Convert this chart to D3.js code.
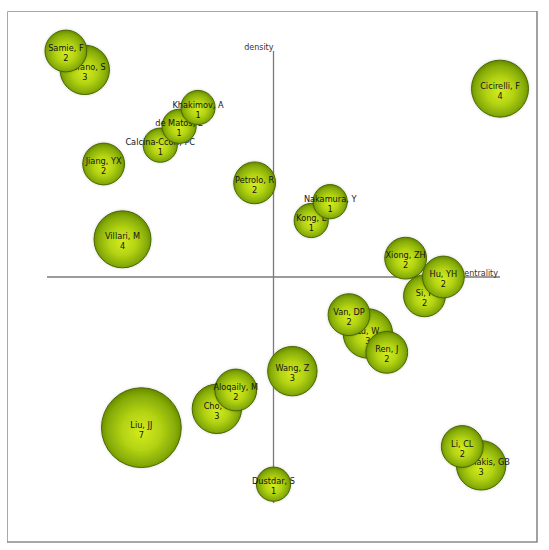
<!DOCTYPE html>
<html>
<head>
<meta charset="utf-8">
<script src="https://cdn.jsdelivr.net/npm/d3@7"></script>
<style>
  body { margin: 0; background: #fff; }
  text { font-family: "DejaVu Sans", Verdana, sans-serif; }
</style>
</head>
<body>
<div id="chart"></div>
<script>
// authors, drawn in this order (later ones sit on top)
var authors = ["Stefano, S", "Samie, F", "Calcina-Ccori, PC", "de Matos, E", "Khakimov, A",
    "Jiang, YX", "Petrolo, R", "Kong, L", "Nakamura, Y", "Villari, M", "Cicirelli, F",
    "Xiong, ZH", "Si, P", "Hu, YH", "Lu, W", "Van, DP", "Ren, J", "Wang, Z",
    "Cho, K", "Aloqaily, M", "Liu, JJ", "Dustdar, S", "Giannakis, GB", "Li, CL"];
var centrality = [-10, -11, -6, -5, -4, -9, -1, 2, 3, -8, 12, 7, 8, 9, 5, 4, 6, 1, -3, -2, -7, 0, 11, 10];
var density = [11, 12, 7, 8, 9, 6, 5, 3, 4, 2, 10, 1, -1, 0, -3, -2, -4, -5, -7, -6, -8, -11, -10, -9];
var docs = [3, 2, 1, 1, 1, 2, 2, 1, 1, 4, 4, 2, 2, 2, 3, 2, 2, 3, 3, 2, 7, 1, 3, 2];
var axisLabels = ["centrality", "density"];

var data = authors.map(function(a, i) {
    return { name: a, x: centrality[i], y: density[i], n: docs[i] };
});

var width = 549, height = 550;

var svg = d3.select("#chart").append("svg")
    .attr("width", width)
    .attr("height", height);

var defs = svg.append("defs");
var grad = defs.append("radialGradient")
    .attr("id", "ball")
    .attr("cx", "50%").attr("cy", "52%").attr("r", "55%")
    .attr("fx", "50%").attr("fy", "56%");
grad.append("stop").attr("offset", "0%").attr("stop-color", "#d4ec1e");
grad.append("stop").attr("offset", "45%").attr("stop-color", "#b2d212");
grad.append("stop").attr("offset", "80%").attr("stop-color", "#84aa06");
grad.append("stop").attr("offset", "100%").attr("stop-color", "#5a7e00");

var shadow = defs.append("filter").attr("id", "halo")
    .attr("x", "-30%").attr("y", "-30%").attr("width", "160%").attr("height", "160%");
shadow.append("feDropShadow")
    .attr("dx", 0).attr("dy", 0).attr("stdDeviation", 1.5)
    .attr("flood-color", "#000").attr("flood-opacity", 0.18);

// frame: light top/left, heavier right/bottom
var frame = svg.append("g");
frame.append("path")
    .attr("d", "M7.5,542 V11.5 H537")
    .attr("fill", "none").attr("stroke", "#a8a8a8").attr("stroke-width", 1);
frame.append("path")
    .attr("d", "M7,542 H537 V11")
    .attr("fill", "none").attr("stroke", "#8a8a8a").attr("stroke-width", 1.6);

// scales
var x = d3.scaleLinear().domain([-12, 12]).range([47, 500]);
var y = d3.scaleLinear().domain([-12, 12]).range([503, 51]);
var r = d3.scaleLinear().domain([1, 7]).range([17.1, 39.9]);

// axes through the origin
svg.append("line")
    .attr("x1", x(-12)).attr("x2", x(12))
    .attr("y1", y(0)).attr("y2", y(0))
    .attr("stroke", "#7a7a7a").attr("stroke-width", 1.3);
svg.append("line")
    .attr("x1", x(0)).attr("x2", x(0))
    .attr("y1", y(12)).attr("y2", y(-12))
    .attr("stroke", "#7a7a7a").attr("stroke-width", 1.3);

svg.append("text")
    .attr("x", x(12) - 2).attr("y", y(0) - 1)
    .attr("text-anchor", "end")
    .attr("font-size", "8px")
    .attr("fill", "#333")
    .text(axisLabels[0]);
svg.append("text")
    .attr("x", x(0)).attr("y", y(12) - 1)
    .attr("text-anchor", "end")
    .attr("font-size", "8px")
    .attr("fill", "#333")
    .text(axisLabels[1]);

// bubbles
var node = svg.selectAll("g.node")
    .data(data)
    .enter().append("g")
    .attr("class", "node")
    .attr("transform", function(d) { return "translate(" + x(d.x) + "," + y(d.y) + ")"; });

node.append("circle")
    .attr("r", function(d) { return r(d.n); })
    .attr("fill", "url(#ball)")
    .attr("stroke", "#4a6606")
    .attr("stroke-width", 1)
    .attr("filter", "url(#halo)");

node.append("text")
    .attr("y", 0)
    .attr("text-anchor", "middle")
    .attr("font-size", "8.2px")
    .attr("fill", "#141414")
    .text(function(d) { return d.name; });

node.append("text")
    .attr("y", 10)
    .attr("text-anchor", "middle")
    .attr("font-size", "8.2px")
    .attr("fill", "#141414")
    .text(function(d) { return d.n; });
</script>
</body>
</html>
